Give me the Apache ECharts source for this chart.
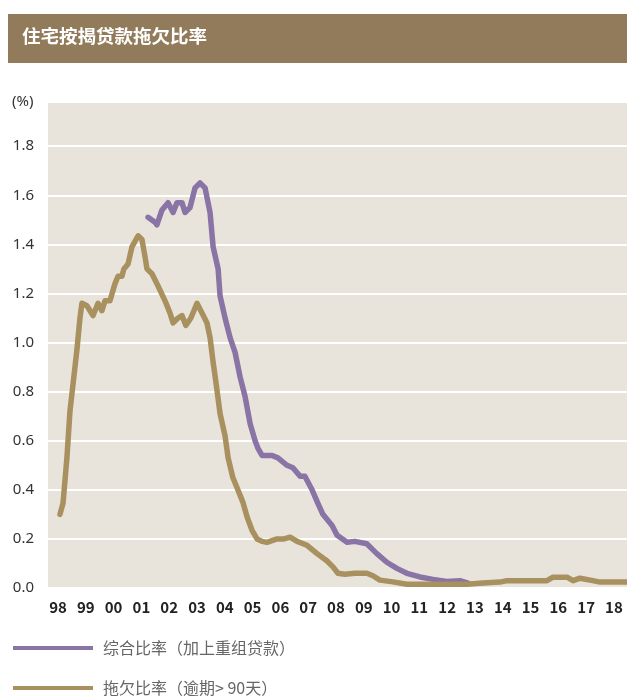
<!DOCTYPE html>
<html>
<head>
<meta charset="utf-8">
<script src="https://cdn.jsdelivr.net/npm/echarts@6/dist/echarts.min.js"></script>
<style>
  html, body { margin: 0; padding: 0; background: #fff; }
  #main { width: 627px; height: 700px; }
</style>
</head>
<body>
<div id="main"></div>
<script>
// 年份刻度
const yearTicks = [1998, 1999, 2000, 2001, 2002, 2003, 2004, 2005, 2006, 2007, 2008,
  2009, 2010, 2011, 2012, 2013, 2014, 2015, 2016, 2017, 2018]

// 综合比率（加上重组贷款）
const combinedYears = [2001.24, 2001.31, 2001.49, 2001.56, 2001.74, 2001.96, 2002.14, 2002.28,
  2002.46, 2002.57, 2002.75, 2002.93, 2003.11, 2003.29, 2003.47, 2003.58, 2003.76, 2003.83,
  2004.01, 2004.19, 2004.37, 2004.55, 2004.73, 2004.91, 2005.09, 2005.19, 2005.34, 2005.70,
  2005.91, 2006.24, 2006.45, 2006.71, 2006.88, 2007.14, 2007.35, 2007.53, 2007.86, 2008.04,
  2008.40, 2008.68, 2009.11, 2009.47, 2009.83, 2010.19, 2010.55, 2011.02, 2011.49, 2011.99,
  2012.46, 2012.75]
const combinedValues = [1.51, 1.51, 1.49, 1.48, 1.54, 1.57, 1.53, 1.57,
  1.57, 1.53, 1.55, 1.63, 1.65, 1.63, 1.53, 1.39, 1.30, 1.19,
  1.10, 1.02, 0.96, 0.86, 0.78, 0.67, 0.60, 0.57, 0.54, 0.54,
  0.53, 0.50, 0.49, 0.455, 0.455, 0.40, 0.345, 0.30, 0.255, 0.215,
  0.186, 0.19, 0.18, 0.14, 0.105, 0.08, 0.06, 0.045, 0.035, 0.027,
  0.03, 0.02]

// 拖欠比率（逾期> 90天）
const delinquentYears = [1998.07, 1998.18, 1998.32, 1998.43, 1998.54, 1998.68, 1998.79, 1998.86,
  1999.04, 1999.26, 1999.44, 1999.58, 1999.69, 1999.87, 2000.05, 2000.16, 2000.30, 2000.37,
  2000.52, 2000.66, 2000.88, 2001.02, 2001.13, 2001.20, 2001.38, 2001.60, 2001.85, 2002.03,
  2002.14, 2002.32, 2002.46, 2002.60, 2002.78, 2003.00, 2003.18, 2003.36, 2003.47, 2003.58,
  2003.68, 2003.83, 2004.01, 2004.12, 2004.29, 2004.47, 2004.65, 2004.80, 2004.98, 2005.16,
  2005.34, 2005.52, 2005.88, 2006.13, 2006.35, 2006.60, 2006.96, 2007.32, 2007.68, 2007.90,
  2008.07, 2008.32, 2008.68, 2009.11, 2009.33, 2009.58, 2010.05, 2010.55, 2011.49, 2012.71,
  2013.29, 2013.90, 2014.15, 2014.62, 2015.59, 2015.81, 2016.31, 2016.53, 2016.78, 2017.24,
  2017.50, 2018.47]
const delinquentValues = [0.30, 0.345, 0.53, 0.72, 0.83, 0.97, 1.10, 1.16,
  1.15, 1.11, 1.16, 1.13, 1.17, 1.17, 1.24, 1.27, 1.27, 1.30,
  1.32, 1.39, 1.435, 1.42, 1.35, 1.30, 1.28, 1.23, 1.17, 1.12,
  1.08, 1.10, 1.11, 1.07, 1.10, 1.16, 1.12, 1.08, 1.02, 0.92,
  0.84, 0.71, 0.62, 0.53, 0.45, 0.40, 0.35, 0.29, 0.235, 0.20,
  0.19, 0.186, 0.20, 0.20, 0.207, 0.19, 0.174, 0.14, 0.11, 0.085,
  0.06, 0.056, 0.06, 0.06, 0.05, 0.032, 0.025, 0.015, 0.015, 0.015,
  0.02, 0.024, 0.03, 0.03, 0.03, 0.044, 0.044, 0.03, 0.04, 0.03,
  0.024, 0.024]

const seriesNames = ['综合比率（加上重组贷款）', '拖欠比率（逾期> 90天）']

const zip = (xs, ys) => xs.map((x, i) => [x, ys[i]])

const legendBase = {
  left: 13,
  padding: 0,
  itemWidth: 80,
  itemHeight: 4,
  icon: 'rect',
  textStyle: {
    fontSize: 16,
    color: '#666',
    padding: [0, 0, 0, 5],
    fontFamily: '"Noto Sans CJK SC", sans-serif',
  },
}

const chart = echarts.init(document.getElementById('main'))
chart.setOption({
  animation: false,
  textStyle: { fontFamily: '"Noto Sans CJK SC", "Noto Sans", sans-serif' },
  graphic: [
    {
      type: 'rect',
      left: 8,
      top: 14,
      shape: { width: 619, height: 49 },
      style: { fill: '#917b5b' },
    },
    {
      type: 'text',
      left: 22,
      top: 27,
      style: {
        text: '住宅按揭贷款拖欠比率',
        fill: '#fff',
        font: 'bold 18.5px "Noto Sans CJK SC", sans-serif',
      },
    },
    {
      type: 'text',
      left: 12,
      top: 94,
      style: {
        text: '(%)',
        fill: '#333',
        font: '15px "Noto Sans", sans-serif',
      },
    },
  ],
  grid: {
    left: 48,
    right: 0,
    top: 102,
    bottom: 112,
    show: true,
    backgroundColor: '#e8e4db',
    borderWidth: 0,
  },
  legend: [
    Object.assign({}, legendBase, { top: 640, data: [seriesNames[0]] }),
    Object.assign({}, legendBase, { top: 680, data: [seriesNames[1]] }),
  ],
  xAxis: {
    type: 'value',
    min: 1997.64,
    max: 2018.47,
    axisLine: { show: false },
    axisTick: { show: false },
    splitLine: { show: false },
    axisLabel: {
      customValues: yearTicks,
      margin: 12,
      fontSize: 15,
      fontWeight: 'bold',
      color: '#222',
      formatter: function (v) {
        return String(Math.round(v) % 100).padStart(2, '0')
      },
    },
  },
  yAxis: {
    type: 'value',
    min: 0,
    max: 1.98,
    interval: 0.2,
    axisLine: { show: false },
    axisTick: { show: false },
    splitLine: { lineStyle: { color: '#fff', width: 2 } },
    axisLabel: {
      showMaxLabel: false,
      margin: 14,
      fontSize: 15,
      color: '#333',
      fontFamily: '"Noto Sans", sans-serif',
      formatter: function (v) {
        return v.toFixed(1)
      },
    },
  },
  series: [
    {
      name: seriesNames[0],
      type: 'line',
      data: zip(combinedYears, combinedValues),
      showSymbol: false,
      color: '#8a73a5',
      lineStyle: { width: 5.5, join: 'round', cap: 'round' },
    },
    {
      name: seriesNames[1],
      type: 'line',
      data: zip(delinquentYears, delinquentValues),
      showSymbol: false,
      color: '#a8905f',
      lineStyle: { width: 5.5, join: 'round', cap: 'round' },
    },
  ],
})
window.addEventListener('resize', () => {
  chart.resize()
})
</script>
</body>
</html>
